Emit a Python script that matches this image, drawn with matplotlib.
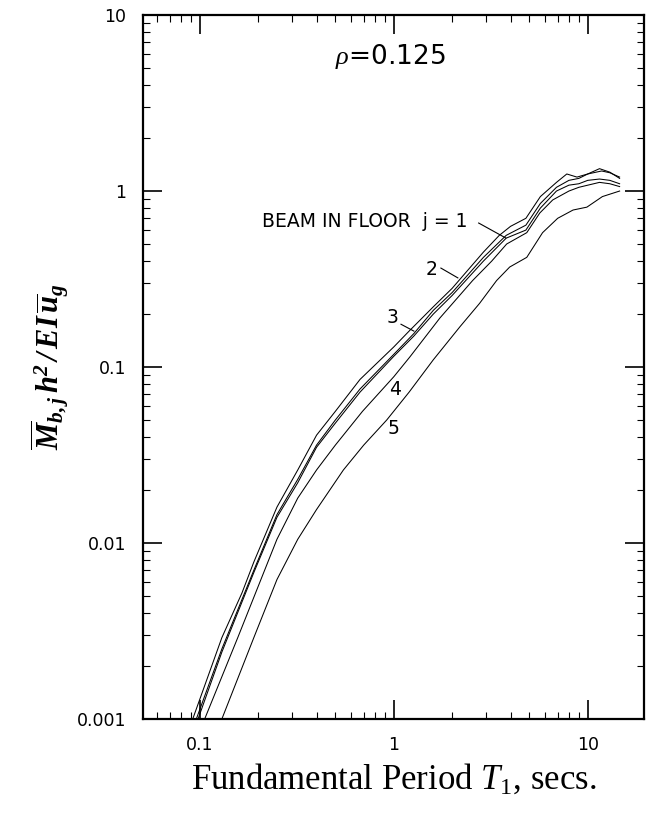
import matplotlib
matplotlib.use('Agg')
import matplotlib.pyplot as plt
import numpy as np

plt.rcParams['mathtext.fontset'] = 'custom'
plt.rcParams['mathtext.rm'] = 'Liberation Serif'
plt.rcParams['mathtext.it'] = 'Liberation Serif:italic'
plt.rcParams['mathtext.bf'] = 'Liberation Serif:italic:bold'

# period T1 (secs) and normalised beam moment
t_j1 = [0.092, 0.13, 0.165, 0.19, 0.25, 0.32, 0.40, 0.50, 0.67, 1.0, 1.2, 1.6,
        2.0, 2.9, 3.5, 4.0, 4.8, 5.7, 6.9, 7.8, 8.8, 10.0, 11.5, 13.0, 14.6]
m_j1 = [0.001, 0.0029, 0.0052, 0.0078, 0.016, 0.026, 0.041, 0.056, 0.085, 0.13,
        0.16, 0.22, 0.28, 0.45, 0.56, 0.63, 0.70, 0.93, 1.12, 1.25, 1.20, 1.25,
        1.34, 1.28, 1.18]

t_j2 = [0.096, 0.13, 0.19, 0.25, 0.32, 0.40, 0.50, 0.67, 1.0, 1.27, 1.6, 2.0,
        2.9, 3.8, 4.8, 5.7, 6.9, 8.0, 9.0, 10.0, 11.8, 13.0, 14.6]
m_j2 = [0.001, 0.0025, 0.0070, 0.0145, 0.023, 0.036, 0.050, 0.075, 0.118, 0.155,
        0.21, 0.265, 0.42, 0.56, 0.64, 0.85, 1.05, 1.15, 1.18, 1.25, 1.30, 1.27,
        1.20]

t_j3 = [0.098, 0.13, 0.19, 0.25, 0.32, 0.40, 0.50, 0.67, 1.0, 1.27, 1.6, 2.0,
        2.9, 3.8, 4.8, 5.7, 6.9, 8.0, 9.0, 10.0, 11.5, 13.0, 14.6]
m_j3 = [0.001, 0.0024, 0.0068, 0.014, 0.022, 0.035, 0.048, 0.072, 0.115, 0.15,
        0.20, 0.255, 0.40, 0.54, 0.60, 0.80, 1.00, 1.08, 1.10, 1.15, 1.17, 1.15,
        1.10]

t_j4 = [0.106, 0.157, 0.25, 0.32, 0.40, 0.50, 0.69, 1.0, 1.21, 1.73, 2.55, 3.2,
        3.82, 4.85, 5.66, 6.6, 8.0, 9.0, 11.5, 13.0, 14.6]
m_j4 = [0.001, 0.0029, 0.0105, 0.018, 0.026, 0.036, 0.056, 0.088, 0.114, 0.19,
        0.31, 0.40, 0.50, 0.58, 0.75, 0.89, 1.0, 1.05, 1.12, 1.10, 1.06]

t_j5 = [0.13, 0.19, 0.25, 0.32, 0.40, 0.55, 0.70, 0.92, 1.2, 1.6, 2.2, 2.77,
        3.39, 3.96, 4.85, 5.85, 7.0, 8.4, 9.9, 11.9, 14.6]
m_j5 = [0.001, 0.0029, 0.0062, 0.0105, 0.0155, 0.026, 0.036, 0.050, 0.072,
        0.11, 0.17, 0.23, 0.31, 0.37, 0.42, 0.58, 0.70, 0.78, 0.81, 0.93, 1.0]

xticks = [0.1, 1, 10]
xtick_labels = ['0.1', '1', '10']
yticks = [0.001, 0.01, 0.1, 1, 10]
ytick_labels = ['0.001', '0.01', '0.1', '1', '10']

fig = plt.figure(figsize=(6.46, 8.13), dpi=100)
ax = fig.add_axes([0.2214, 0.1156, 0.7755, 0.8659])

for tt, mm in [(t_j1, m_j1), (t_j2, m_j2), (t_j3, m_j3), (t_j4, m_j4), (t_j5, m_j5)]:
    ax.plot(tt, mm, color='black', lw=0.75)

ax.set_xscale('log')
ax.set_yscale('log')
ax.set_xlim(0.051, 19.5)
ax.set_ylim(0.001, 10)

ax.set_xticks(xticks)
ax.set_xticklabels(xtick_labels)
ax.set_yticks(yticks)
ax.set_yticklabels(ytick_labels)
ax.tick_params(which='major', direction='in', length=14, width=1.2,
               top=True, right=True, labelsize=12.5, pad=12)
ax.tick_params(which='minor', direction='in', length=5, width=0.8,
               top=True, right=True)
for s in ax.spines.values():
    s.set_linewidth(1.6)

ax.text(0.965, 5.8, r'$\rho$' + '=0.125', fontsize=19, ha='center', va='center')

ax.text(2.41, 0.667, 'BEAM IN FLOOR  j = 1', fontsize=13.5, ha='right', va='center')
ax.plot([2.74, 3.78], [0.658, 0.541], color='black', lw=0.8)
ax.text(1.57, 0.356, '2', fontsize=13.5, ha='center', va='center')
ax.plot([1.75, 2.14], [0.365, 0.321], color='black', lw=0.8)
ax.text(0.99, 0.19, '3', fontsize=13.5, ha='center', va='center')
ax.plot([1.09, 1.27], [0.175, 0.160], color='black', lw=0.8)
ax.text(1.02, 0.075, '4', fontsize=13.5, ha='center', va='center')
ax.text(1.0, 0.045, '5', fontsize=13.5, ha='center', va='center')

ax.set_xlabel(r'Fundamental Period $T_1$, secs.', fontsize=25,
              family='Liberation Serif', labelpad=6)
ax.set_ylabel(r'$\mathbf{\overline{M}_{b,j}\,h^2\,/\,EI\,\overline{u}_g}$',
              fontsize=22, labelpad=4)

fig.savefig('out.png', dpi=100)
